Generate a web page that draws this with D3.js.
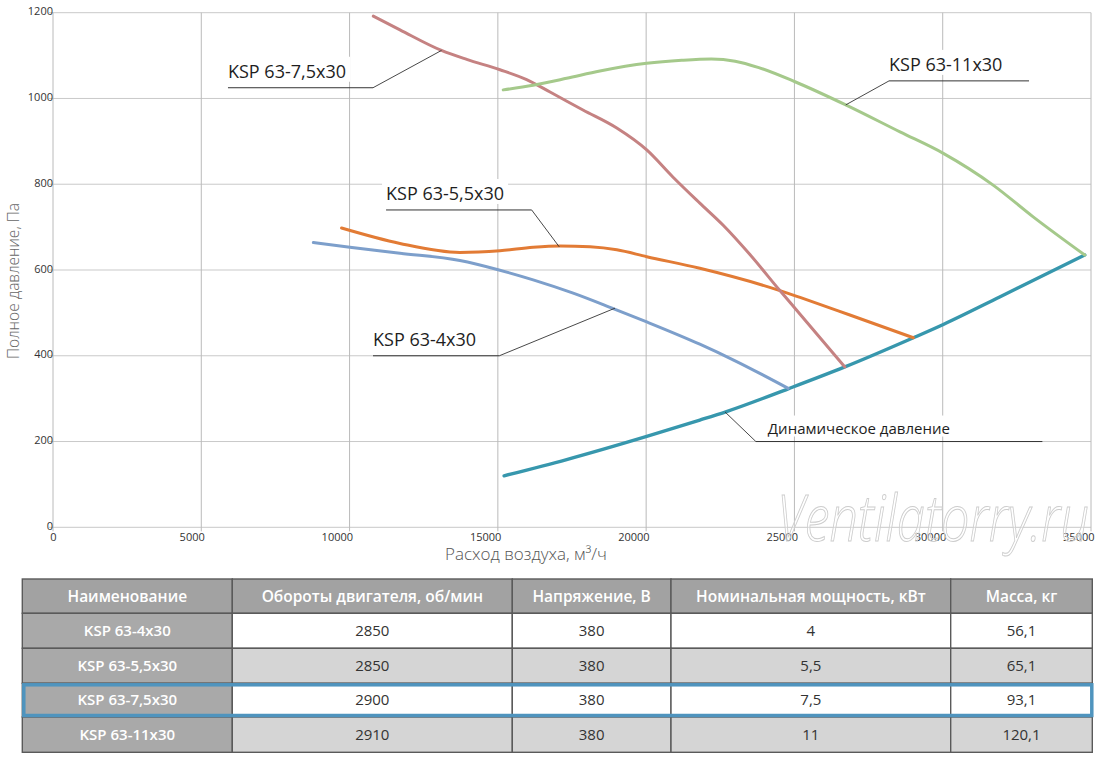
<!DOCTYPE html>
<html>
<head>
<meta charset="utf-8">
<script src="https://cdn.jsdelivr.net/npm/d3@7"></script>
<style>
  html, body { margin: 0; padding: 0; background: #fff; }
  svg { display: block; font-family: "Open Sans", "Noto Sans", sans-serif; }
</style>
</head>
<body>
<svg id="chart"></svg>
<script>
// axis ticks
const flowTicks = [0, 5000, 10000, 15000, 20000, 25000, 30000, 35000];
const pressureTicks = [0, 200, 400, 600, 800, 1000, 1200];

// curves: flow, m3/h -> total pressure, Pa
const ksp4Flow = [8780, 10010, 11700, 13720, 15040, 16190, 17540, 18890, 20020, 21810, 22950, 24790];
const ksp4Pres = [664, 653, 639, 622, 600, 577, 546, 510, 479, 427, 390, 324];

const ksp55Flow = [9730, 11700, 13720, 15070, 16190, 17090, 18110, 19010, 20020, 21810, 24510, 25190, 26870, 29010];
const ksp55Pres = [698, 662, 641, 645, 653, 656, 654, 647, 631, 604, 552, 536, 495, 442];

const ksp75Flow = [10800, 11700, 13100, 13950, 15070, 15970, 16760, 17870, 19010, 20020, 20900, 21810, 22590, 23500, 24510, 25190, 26700];
const ksp75Pres = [1192, 1160, 1112, 1091, 1067, 1044, 1015, 973, 931, 880, 817, 756, 705, 636, 552, 497, 374];

const ksp11Flow = [15180, 16190, 17320, 18440, 20020, 21200, 22200, 23000, 23800, 25020, 26730, 28560, 30020, 31700, 33050, 34790];
const ksp11Pres = [1020, 1031, 1047, 1064, 1082, 1089, 1092, 1087, 1072, 1039, 985, 922, 872, 798, 724, 635];

const dynFlow = [15210, 17320, 20020, 21810, 22710, 24790, 26700, 29010, 30020, 31920, 34790];
const dynPres = [120, 158, 212, 250, 270, 323, 374, 442, 473, 537, 635];

// table
const tableHeaders = ["Наименование", "Обороты двигателя, об/мин", "Напряжение, В", "Номинальная мощность, кВт", "Масса, кг"];
const models = ["KSP 63-4x30", "KSP 63-5,5x30", "KSP 63-7,5x30", "KSP 63-11x30"];
const rpm = ["2850", "2850", "2900", "2910"];
const voltage = ["380", "380", "380", "380"];
const power = ["4", "5,5", "7,5", "11"];
const mass = ["56,1", "65,1", "93,1", "120,1"];
const highlightModel = "KSP 63-7,5x30";

const W = 1100, H = 757;
const svg = d3.select("#chart").attr("width", W).attr("height", H);
svg.append("rect").attr("width", W).attr("height", H).attr("fill", "#fff");

const x = d3.scaleLinear().domain([0, 35000]).range([53, 1091]);
const y = d3.scaleLinear().domain([0, 1200]).range([527.3, 12.7]);

// grid
const grid = svg.append("g");
grid.selectAll("line.h")
  .data(pressureTicks)
  .join("line")
  .attr("class", "h")
  .attr("x1", x(0) - 4).attr("x2", x(35000))
  .attr("y1", d => y(d)).attr("y2", d => y(d))
  .attr("stroke", "#c9c9c9").attr("stroke-width", 1);
grid.selectAll("line.v")
  .data(flowTicks)
  .join("line")
  .attr("class", "v")
  .attr("x1", d => x(d)).attr("x2", d => x(d))
  .attr("y1", y(1200)).attr("y2", y(0) + 4)
  .attr("stroke", "#bababa").attr("stroke-width", 1);

// axes (labels only, grid drawn above)
const yAxis = svg.append("g")
  .attr("transform", `translate(${x(0)},0)`)
  .call(d3.axisLeft(y).tickValues(pressureTicks).tickFormat(d3.format("d")).tickSize(0).tickPadding(0));
const xAxis = svg.append("g")
  .attr("transform", `translate(0,${y(0)})`)
  .call(d3.axisBottom(x).tickValues(flowTicks).tickFormat(d3.format("d")).tickSize(0).tickPadding(6));
[yAxis, xAxis].forEach(a => {
  a.select(".domain").remove();
  a.selectAll("text")
    .attr("fill", "#333")
    .attr("font-size", "11px")
    .attr("font-family", "'Open Sans', sans-serif");
});
yAxis.selectAll("text").attr("dy", "0.2em");
xAxis.selectAll("text").attr("text-anchor", "end").attr("x", 3);

svg.append("text")
  .attr("x", 526).attr("y", 560)
  .attr("text-anchor", "middle")
  .attr("font-size", "17px")
  .attr("font-weight", 300)
  .attr("fill", "#555")
  .text("Расход воздуха, м³/ч");

svg.append("text")
  .attr("transform", "translate(19,281) rotate(-90)")
  .attr("text-anchor", "middle")
  .attr("font-size", "15.5px")
  .attr("font-weight", 300)
  .attr("fill", "#666")
  .text("Полное давление, Па");

// curves
const line = d3.line()
  .x(d => x(d[0]))
  .y(d => y(d[1]))
  .curve(d3.curveMonotoneX);

const series = [
  { flow: dynFlow, pres: dynPres, color: "#3797ad", width: 3.4 },
  { flow: ksp4Flow, pres: ksp4Pres, color: "#7d9fcb", width: 3 },
  { flow: ksp55Flow, pres: ksp55Pres, color: "#e27b35", width: 3 },
  { flow: ksp75Flow, pres: ksp75Pres, color: "#c58282", width: 3 },
  { flow: ksp11Flow, pres: ksp11Pres, color: "#a5c98b", width: 3 }
];

svg.append("g").selectAll("path")
  .data(series)
  .join("path")
  .attr("d", s => line(s.flow.map((f, i) => [f, s.pres[i]])))
  .attr("fill", "none")
  .attr("stroke", s => s.color)
  .attr("stroke-width", s => s.width)
  .attr("stroke-linecap", "round")
  .attr("stroke-linejoin", "round");

// callouts: underline from u0 to u1 at level uy, leader from elbow to point on curve
const notes = [
  { text: models[2], u0: 5900, u1: 10790, uy: 1025, elbow: "right", p: [13100, 1112], size: 18, dx: 0 },
  { text: models[1], u0: 11230, u1: 16140, uy: 740, elbow: "right", p: [17070, 654], size: 18, dx: 0 },
  { text: models[0], u0: 10790, u1: 15050, uy: 400, elbow: "right", p: [18950, 511], size: 18, dx: 0 },
  { text: models[3], u0: 28190, u1: 32910, uy: 1041, elbow: "left", p: [26730, 985], size: 18, dx: 0 },
  { text: "Динамическое давление", u0: 23700, u1: 33360, uy: 200, elbow: "left", p: [22660, 269], size: 15, dx: 12 }
];

const noteG = svg.append("g");
notes.forEach(n => {
  const g = noteG.append("g");
  const bg = g.append("rect").attr("fill", "#fff");
  const t = g.append("text")
    .attr("x", x(n.u0) + n.dx)
    .attr("y", y(n.uy) - (n.size > 16 ? 10 : 8))
    .attr("font-size", n.size + "px")
    .attr("fill", "#1e1e1e")
    .text(n.text);
  const b = t.node().getBBox();
  bg.attr("x", b.x - 4).attr("y", b.y - 2)
    .attr("width", b.width + 8).attr("height", b.height + 1);
  const ex = n.elbow === "right" ? n.u1 : n.u0;
  g.append("path")
    .attr("d", d3.line()([[x(n.u0), y(n.uy)], [x(n.u1), y(n.uy)]]))
    .attr("stroke", "#333").attr("stroke-width", 1).attr("fill", "none");
  g.append("path")
    .attr("d", d3.line()([[x(ex), y(n.uy)], [x(n.p[0]), y(n.p[1])]]))
    .attr("stroke", "#333").attr("stroke-width", 0.9).attr("fill", "none");
});

// watermark
svg.append("text")
  .attr("x", 777).attr("y", 541)
  .attr("font-size", "64px")
  .attr("font-style", "italic")
  .attr("font-weight", 300)
  .attr("textLength", 312)
  .attr("lengthAdjust", "spacingAndGlyphs")
  .attr("fill", "#fff").attr("fill-opacity", 0.3)
  .attr("stroke", "#cdcdcd").attr("stroke-width", 1)
  .text("Ventilatorry.ru");

// table
const colEdges = [22.3, 232.3, 512.3, 671, 950.7, 1092.3];
const rowEdges = [579, 613.3, 648.3, 683.3, 717, 752.3];
const rows = models.map((m, i) => [m, rpm[i], voltage[i], power[i], mass[i]]);
const cells = [];
tableHeaders.forEach((h, c) => cells.push({ r: 0, c, text: h }));
rows.forEach((row, r) => row.forEach((v, c) => cells.push({ r: r + 1, c, text: v })));

const tbl = svg.append("g");
tbl.selectAll("rect.cell")
  .data(cells)
  .join("rect")
  .attr("class", "cell")
  .attr("x", d => colEdges[d.c]).attr("y", d => rowEdges[d.r])
  .attr("width", d => colEdges[d.c + 1] - colEdges[d.c])
  .attr("height", d => rowEdges[d.r + 1] - rowEdges[d.r])
  .attr("fill", d => d.r === 0 ? "#a2a2a2" : d.c === 0 ? "#a9a9a9" : (d.r % 2 === 1 ? "#ffffff" : "#d5d5d5"))
  .attr("stroke", "#5a5a5a").attr("stroke-width", 1.4);

tbl.selectAll("text.cell")
  .data(cells)
  .join("text")
  .attr("class", "cell")
  .attr("x", d => (colEdges[d.c] + colEdges[d.c + 1]) / 2)
  .attr("y", d => (rowEdges[d.r] + rowEdges[d.r + 1]) / 2)
  .attr("dy", "0.35em")
  .attr("text-anchor", "middle")
  .attr("font-size", d => d.r === 0 ? "15.5px" : "15px")
  .attr("font-weight", d => (d.r === 0 || d.c === 0) ? 600 : 400)
  .attr("fill", d => (d.r === 0 || d.c === 0) ? "#fff" : "#333")
  .text(d => d.text);

const hr = models.indexOf(highlightModel) + 1;
tbl.append("rect")
  .attr("x", colEdges[0] + 1.5).attr("y", rowEdges[hr] + 1.5)
  .attr("width", colEdges[5] - colEdges[0] - 2)
  .attr("height", rowEdges[hr + 1] - rowEdges[hr] - 3)
  .attr("fill", "none")
  .attr("stroke", "#4f94be").attr("stroke-width", 3.5);
</script>
</body>
</html>
